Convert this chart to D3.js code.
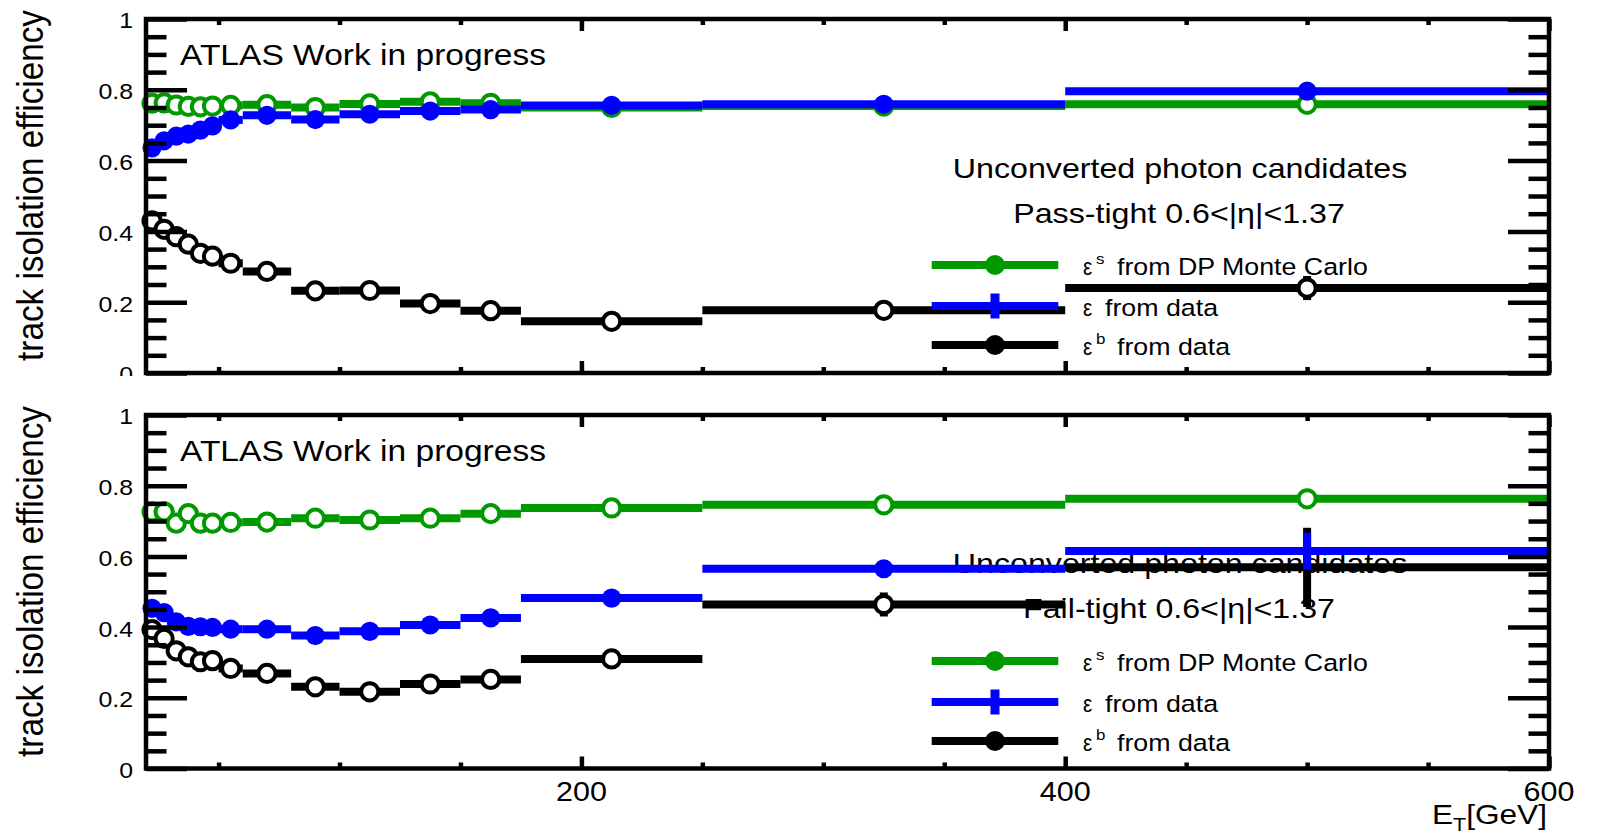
<!DOCTYPE html>
<html>
<head>
<meta charset="utf-8">
<script src="https://cdn.jsdelivr.net/npm/d3@7"></script>
<style>
  body { margin: 0; background: #fff; }
  svg { display: block; }
  text { font-family: "Liberation Sans", Arial, Helvetica, sans-serif; fill: #000; }
</style>
</head>
<body>
<svg id="chart" width="1599" height="837"></svg>
<script>
// Photon E_T binning (GeV)
const etEdges = [20, 25, 30, 35, 40, 45, 50, 60, 80, 100, 125, 150, 175, 250, 400, 600];

// Pass-tight, 0.6<|eta|<1.37
const passSignalMC = [0.762, 0.763, 0.757, 0.753, 0.752, 0.754, 0.756, 0.758, 0.750, 0.760, 0.766, 0.762, 0.750, 0.754, 0.759];
const passEff      = [0.636, 0.656, 0.669, 0.675, 0.686, 0.698, 0.715, 0.728, 0.716, 0.731, 0.740, 0.744, 0.756, 0.759, 0.796];
const passEffErr   = [0.004, 0.004, 0.004, 0.004, 0.004, 0.004, 0.004, 0.004, 0.005, 0.005, 0.006, 0.007, 0.006, 0.010, 0.020];
const passBkg      = [0.430, 0.406, 0.385, 0.364, 0.338, 0.330, 0.310, 0.287, 0.232, 0.233, 0.196, 0.176, 0.146, 0.177, 0.240];
const passBkgErr   = [0.004, 0.004, 0.004, 0.005, 0.005, 0.006, 0.006, 0.006, 0.008, 0.010, 0.012, 0.014, 0.012, 0.025, 0.034];

// Fail-tight, 0.6<|eta|<1.37
const failSignalMC = [0.726, 0.726, 0.694, 0.721, 0.694, 0.694, 0.696, 0.697, 0.708, 0.703, 0.708, 0.721, 0.737, 0.746, 0.763];
const failEff      = [0.453, 0.441, 0.415, 0.402, 0.401, 0.399, 0.394, 0.394, 0.376, 0.388, 0.406, 0.426, 0.482, 0.565, 0.615];
const failEffErr   = [0.003, 0.003, 0.003, 0.003, 0.003, 0.004, 0.004, 0.004, 0.005, 0.006, 0.008, 0.010, 0.012, 0.020, 0.052];
const failBkg      = [0.393, 0.368, 0.333, 0.316, 0.302, 0.305, 0.283, 0.269, 0.231, 0.217, 0.239, 0.252, 0.310, 0.464, 0.569];
const failBkgErr   = [0.003, 0.003, 0.003, 0.003, 0.004, 0.004, 0.004, 0.005, 0.006, 0.008, 0.010, 0.012, 0.014, 0.034, 0.112];

// Axis ticks
const yMajorTicks = [0, 0.2, 0.4, 0.6, 0.8, 1];
const yMinorTicks = d3.range(0, 1.0001, 0.05).filter(v => Math.abs(v * 5 - Math.round(v * 5)) > 1e-6);
const xMajorTicks = [200, 400, 600];
const xMinorTicks = d3.range(50, 600, 50).filter(v => v % 200 !== 0);

const legendEntries = [
  { sup: "s", text: "from DP Monte Carlo", color: "#009a00", kind: "dot" },
  { sup: "",  text: "from data",           color: "#0000ff", kind: "cross" },
  { sup: "b", text: "from data",           color: "#000000", kind: "dot" }
];

const GREEN = "#009a00", BLUE = "#0000ff", BLACK = "#000000";
const SX = 1.13;            // horizontal glyph stretch of the plot font
const BAR = 8;              // thickness of the error bars

const svg = d3.select("#chart");
const W = 1599, H = 837;
svg.append("rect").attr("width", W).attr("height", H).attr("fill", "#fff");

const x = d3.scaleLinear().domain([20, 600]).range([146, 1549]);

const panels = [
  {
    top: 19, bottom: 373, headerY: 159, selY: 204,
    selection: "Pass-tight 0.6<|\u03B7|<1.37",
    series: [
      { values: passSignalMC, errors: null, color: GREEN, marker: "open" },
      { values: passBkg, errors: passBkgErr, color: BLACK, marker: "open" },
      { values: passEff, errors: passEffErr, color: BLUE, marker: "filled" }
    ],
    xLabels: false
  },
  {
    top: 415, bottom: 768.5, headerY: 158, selY: 203,
    selection: "Fail-tight 0.6<|\u03B7|<1.37",
    series: [
      { values: failSignalMC, errors: null, color: GREEN, marker: "open" },
      { values: failBkg, errors: failBkgErr, color: BLACK, marker: "open", noMarker: [14] },
      { values: failEff, errors: failEffErr, color: BLUE, marker: "filled", noMarker: [14] }
    ],
    xLabels: true
  }
];

// text with the slightly widened glyphs of the plot font
function stretchedText(g, str, px, py, size, anchor, sx) {
  return g.append("text")
    .attr("transform", `translate(${px},${py}) scale(${sx || SX},1)`)
    .attr("text-anchor", anchor || "start")
    .attr("font-size", size)
    .text(str);
}

function drawPanel(p, idx) {
  const g = svg.append("g").attr("class", "panel-" + idx);
  const y = d3.scaleLinear().domain([0, 1]).range([p.bottom, p.top]);
  const x0 = x.range()[0], x1 = x.range()[1];

  // y-axis title
  g.append("text")
    .attr("transform", `translate(43,${p.top - 9}) rotate(-90) scale(1,${SX})`)
    .attr("text-anchor", "end")
    .attr("font-size", 33.3)
    .text("track isolation efficiency");

  // labels inside the frame
  stretchedText(g, "ATLAS Work in progress", 180, p.top + 46, 29.7);
  stretchedText(g, "Unconverted photon candidates", 1180, p.top + p.headerY, 28.5, "middle");
  stretchedText(g, p.selection, 1179, p.top + p.selY, 28.5, "middle");

  // graphs: horizontal bin-width bars, vertical error bars, markers
  p.series.forEach(s => {
    const sg = g.append("g");
    const pts = s.values.map((v, i) => ({
      lo: etEdges[i], hi: etEdges[i + 1], c: (etEdges[i] + etEdges[i + 1]) / 2,
      v, e: s.errors ? s.errors[i] : 0, i
    }));
    sg.selectAll("line.h").data(pts).join("line").attr("class", "h")
      .attr("x1", d => x(d.lo)).attr("x2", d => x(d.hi))
      .attr("y1", d => y(d.v)).attr("y2", d => y(d.v))
      .attr("stroke", s.color).attr("stroke-width", BAR);
    sg.selectAll("line.v").data(pts.filter(d => d.e > 0)).join("line").attr("class", "v")
      .attr("x1", d => x(d.c)).attr("x2", d => x(d.c))
      .attr("y1", d => y(d.v - d.e)).attr("y2", d => y(d.v + d.e))
      .attr("stroke", s.color).attr("stroke-width", BAR);
    const hidden = s.noMarker || [];
    sg.selectAll("circle").data(pts.filter(d => !hidden.includes(d.i))).join("circle")
      .attr("cx", d => x(d.c)).attr("cy", d => y(d.v))
      .attr("r", s.marker === "open" ? 8.6 : 9.6)
      .attr("fill", s.marker === "open" ? "#fff" : s.color)
      .attr("stroke", s.marker === "open" ? s.color : "none")
      .attr("stroke-width", 4);
  });

  // legend
  const lg = g.append("g");
  const rowOffsets = [246, 287, 326];
  legendEntries.forEach((e, k) => {
    const ry = p.top + rowOffsets[k];
    lg.append("line").attr("x1", 931.7).attr("x2", 1058.3).attr("y1", ry).attr("y2", ry)
      .attr("stroke", e.color).attr("stroke-width", BAR);
    if (e.kind === "dot") {
      lg.append("circle").attr("cx", 995).attr("cy", ry).attr("r", 10).attr("fill", e.color);
    } else {
      lg.append("rect").attr("x", 995 - 4.5).attr("y", ry - 12.5).attr("width", 9).attr("height", 25).attr("fill", e.color);
      lg.append("circle").attr("cx", 995).attr("cy", ry).attr("r", 5.5).attr("fill", e.color);
    }
    stretchedText(lg, "\u03B5", 1083, ry + 10, 23, "start", 0.9);
    if (e.sup) stretchedText(lg, e.sup, 1096, ry - 1, 15);
    stretchedText(lg, e.text, e.sup ? 1117 : 1105, ry + 10, 23.7);
  });

  // axes: ticks point into the frame
  const tickStyle = sel => {
    sel.select(".domain").remove();
    sel.selectAll(".tick line").attr("stroke", "#000").attr("stroke-width", 4.5);
  };
  g.append("g").attr("transform", `translate(${x0},0)`)
    .call(d3.axisLeft(y).tickValues(yMinorTicks).tickSize(-20.5).tickFormat("")).call(tickStyle);
  g.append("g").attr("transform", `translate(${x0},0)`)
    .call(d3.axisLeft(y).tickValues(yMajorTicks).tickSize(-41).tickFormat("")).call(tickStyle);
  g.append("g").attr("transform", `translate(${x1},0)`)
    .call(d3.axisRight(y).tickValues(yMinorTicks).tickSize(-20.5).tickFormat("")).call(tickStyle);
  g.append("g").attr("transform", `translate(${x1},0)`)
    .call(d3.axisRight(y).tickValues(yMajorTicks).tickSize(-41).tickFormat("")).call(tickStyle);
  g.append("g").attr("transform", `translate(0,${p.bottom})`)
    .call(d3.axisBottom(x).tickValues(xMinorTicks).tickSize(-6).tickFormat("")).call(tickStyle);
  g.append("g").attr("transform", `translate(0,${p.bottom})`)
    .call(d3.axisBottom(x).tickValues(xMajorTicks).tickSize(-12).tickFormat("")).call(tickStyle);
  g.append("g").attr("transform", `translate(0,${p.top})`)
    .call(d3.axisTop(x).tickValues(xMinorTicks).tickSize(-6).tickFormat("")).call(tickStyle);
  g.append("g").attr("transform", `translate(0,${p.top})`)
    .call(d3.axisTop(x).tickValues(xMajorTicks).tickSize(-12).tickFormat("")).call(tickStyle);

  // frame
  g.append("rect").attr("x", x0).attr("y", p.top).attr("width", x1 - x0).attr("height", p.bottom - p.top)
    .attr("fill", "none").attr("stroke", "#000").attr("stroke-width", 4.5);

  // tick labels
  yMajorTicks.forEach(v => {
    stretchedText(g, v === 0 ? "0" : v === 1 ? "1" : d3.format(".1f")(v), 133, y(v) + 1.5 + 7.9, 22, "end");
  });
  if (p.xLabels) {
    xMajorTicks.forEach(v => stretchedText(g, String(v), x(v), 801, 27, "middle"));
    const t = g.append("text")
      .attr("transform", `translate(1547,824) scale(${SX},1)`)
      .attr("text-anchor", "end").attr("font-size", 28);
    t.append("tspan").text("E");
    t.append("tspan").attr("font-size", 19).attr("dy", 7).text("T");
    t.append("tspan").attr("dy", -7).text("[GeV]");
  }
}

drawPanel(panels[0], 0);
// lower pad background
svg.append("rect").attr("x", 0).attr("y", 376).attr("width", W).attr("height", H - 376).attr("fill", "#fff");
drawPanel(panels[1], 1);
</script>
</body>
</html>
